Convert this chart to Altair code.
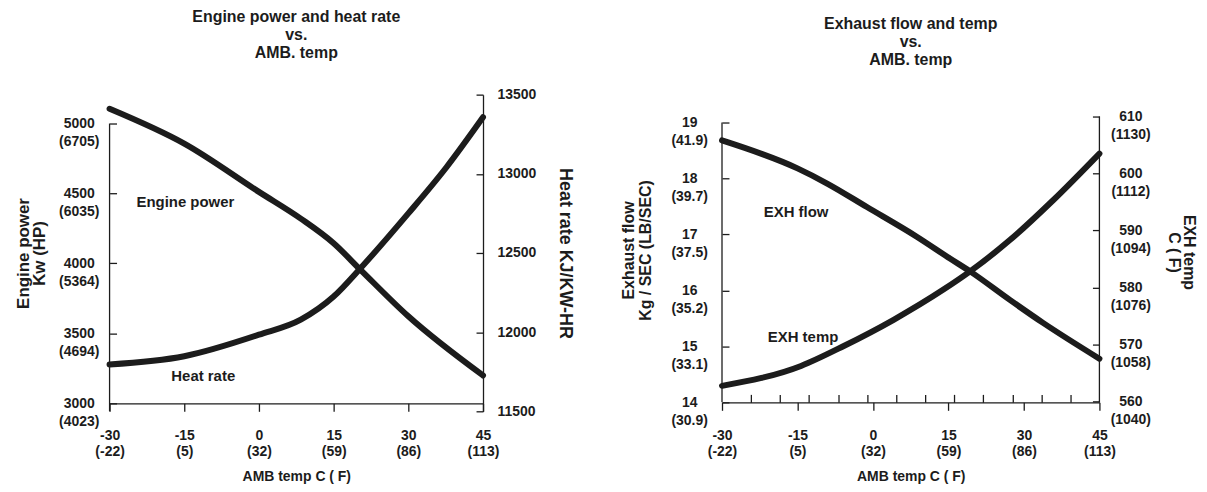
import altair as alt
import pandas as pd

FONT = "Liberation Sans"
INK = "#1c1c1c"

# ---------------- data ----------------
# Left chart: engine power (kW) and heat rate (kJ/kW-hr) vs ambient temp (C)
power_c = [-30, -15, 0, 8.4, 15, 20.4, 30, 45]
power_kw = [5105, 4856, 4511, 4320, 4144, 3954, 3622, 3199]
heat_c = [-30, -15, 0, 8.4, 15, 20.4, 30, 37.7, 45]
heat_rate = [11796, 11848, 11984, 12079, 12225, 12404, 12750, 13043, 13357]

# Right chart: exhaust flow (kg/s) and exhaust temp (C) vs ambient temp (C)
flow_c = [-30, -15, -9.1, -1.2, 8.7, 15.3, 19.3, 27.2, 33.8, 45]
flow_kg = [18.68, 18.18, 17.91, 17.49, 16.96, 16.57, 16.34, 15.83, 15.42, 14.78]
exh_c = [-30, -14.3, -5.8, 4.1, 14.0, 19.3, 27.2, 35.8, 45]
exh_temp = [562.7, 566.2, 569.7, 574.3, 579.6, 582.8, 588.3, 595.3, 603.5]

# tick labels
x_ticks = [-30, -15, 0, 15, 30, 45]
x_ticks_f = ["(-22)", "(5)", "(32)", "(59)", "(86)", "(113)"]
minor_x = [-24.2, -18.5, -12.7, -6.9, -1.2, 4.6, 10.4, 16.2, 21.9, 27.7, 33.5, 39.2]
power_ticks = [3000, 3500, 4000, 4500, 5000]
power_ticks_hp = ["(4023)", "(4694)", "(5364)", "(6035)", "(6705)"]
heat_ticks = [11500, 12000, 12500, 13000, 13500]
flow_ticks = [14, 15, 16, 17, 18, 19]
flow_ticks_lb = ["(30.9)", "(33.1)", "(35.2)", "(37.5)", "(39.7)", "(41.9)"]
exh_ticks = [560, 570, 580, 590, 600, 610]
exh_ticks_f = ["(1040)", "(1058)", "(1076)", "(1094)", "(1112)", "(1130)"]

# in-plot labels
left_lab_text = ["Engine power", "Heat rate"]
left_lab_x = [-24.6, -17.6]
left_lab_y = [4438, 3192]
right_lab_text = ["EXH flow", "EXH temp"]
right_lab_x = [-21.7, -20.9]
right_lab_y = [17.40, 15.16]

# scale domains
XDOM = [-30, 45]
POWER_DOM = [2943, 5206]
HEAT_DOM = [11500, 13500]
FLOW_DOM = [14, 19.498]
EXH_DOM = [559.8, 613.85]

# ---------------- helpers ----------------
AX = dict(labelFont=FONT, labelFontSize=14, labelFontWeight="bold", labelColor=INK,
          titleFont=FONT, titleFontSize=17, titleFontWeight="bold", titleColor=INK,
          domainColor=INK, domainWidth=1.3, tickColor=INK, tickWidth=1.3,
          grid=False, labelOverlap=False, labelFlush=False)


def axis(**kw):
    opts = dict(AX)
    opts.update(kw)
    return alt.Axis(**opts)


def lines_expr(values, seconds):
    expr = "''"
    for v, s in zip(reversed(values), reversed(seconds)):
        expr = f"datum.value == {v} ? ['{v}', '{s}'] : ({expr})"
    return expr


def tick_axis(orient, values, size=7):
    return axis(orient=orient, values=values, labels=False, domain=False, ticks=True,
                tickSize=size, offset=-size, title=None)


def sc(dom):
    return alt.Scale(domain=dom, nice=False, zero=False)


def line(df, ydom, xaxis, yaxis, opacity=1.0):
    return alt.Chart(df).mark_line(interpolate="monotone", strokeWidth=6, color=INK,
                                   strokeCap="round", opacity=opacity).encode(
        x=alt.X("c:Q", scale=sc(XDOM), axis=xaxis),
        y=alt.Y("v:Q", scale=sc(ydom), axis=yaxis),
    )


def labels(text, xs, ys, ydom):
    df = pd.DataFrame({"t": text, "c": xs, "v": ys})
    return alt.Chart(df).mark_text(align="left", baseline="middle", font=FONT, fontSize=15,
                                   fontWeight="bold", color=INK).encode(
        x=alt.X("c:Q", scale=sc(XDOM), axis=None),
        y=alt.Y("v:Q", scale=sc(ydom), axis=None),
        text="t:N",
    )


def vrule(xval, ytop, ybottom, ydom):
    return alt.Chart(pd.DataFrame({"a": [0]})).mark_rule(color=INK, strokeWidth=1.3).encode(
        x=alt.XDatum(xval, scale=sc(XDOM), axis=None),
        y=alt.YDatum(ytop, scale=sc(ydom), axis=None),
        y2=alt.Y2Datum(ybottom),
    )


def panel_title(lines, offset):
    return alt.TitleParams(lines, font=FONT, fontSize=16, fontWeight="bold", lineHeight=18,
                           color=INK, anchor="middle", frame="group", offset=offset)


# ---------------- left chart ----------------
power_df = pd.DataFrame({"c": power_c, "v": power_kw})
heat_df = pd.DataFrame({"c": heat_c, "v": heat_rate})

x_axis_left = axis(orient="bottom", values=x_ticks, labelExpr=lines_expr(x_ticks, x_ticks_f),
                   offset=-8, tickSize=8, labelPadding=17, labelLineHeight=16,
                   labelAlign="center", labelBaseline="top",
                   title="AMB temp  C ( F)", titleFontSize=14, titleY=73,
                   titleBaseline="middle")

ax_power = axis(orient="left", values=power_ticks, labelExpr=lines_expr(power_ticks, power_ticks_hp),
                ticks=False, tickSize=0, domain=False, labelAlign="center", labelBaseline="middle",
                labelPadding=31, labelLineHeight=18, title=["Engine power", "Kw (HP)"],
                titleX=-86, titleY=159, titleAngle=-90, titleAlign="center",
                titleBaseline="middle", titleFontSize=17, titleLineHeight=16)

ax_heat = axis(orient="right", values=heat_ticks, format="d", ticks=False, tickSize=0,
               labelAlign="left", labelBaseline="middle", labelPadding=14,
               title="Heat rate KJ/KW-HR", titleX=82, titleY=159, titleAngle=90,
               titleAlign="center", titleBaseline="middle", titleFontSize=18)

left = alt.layer(
    line(power_df, POWER_DOM, x_axis_left, ax_power),
    line(heat_df, HEAT_DOM, None, ax_heat),
    line(power_df, POWER_DOM, None, tick_axis("left", power_ticks), opacity=0),
    line(heat_df, HEAT_DOM, None, tick_axis("right", heat_ticks), opacity=0),
    vrule(XDOM[0], power_ticks[-1], POWER_DOM[0], POWER_DOM),
    labels(left_lab_text, left_lab_x, left_lab_y, POWER_DOM),
).resolve_scale(x="independent", y="independent").properties(
    width=375, height=318,
    title=panel_title(["Engine power and heat rate", "vs.", "AMB. temp"], 27),
)

# ---------------- right chart ----------------
flow_df = pd.DataFrame({"c": flow_c, "v": flow_kg})
exh_df = pd.DataFrame({"c": exh_c, "v": exh_temp})

x_axis_right = axis(orient="bottom", values=x_ticks, labelExpr=lines_expr(x_ticks, x_ticks_f),
                    tickSize=8, labelPadding=18, labelLineHeight=16,
                    labelAlign="center", labelBaseline="top",
                    title="AMB temp  C ( F)", titleFontSize=14, titleY=74,
                    titleBaseline="middle")

ax_flow = axis(orient="left", values=flow_ticks, labelExpr=lines_expr(flow_ticks, flow_ticks_lb),
               ticks=False, tickSize=0, domain=False, labelAlign="center", labelBaseline="middle",
               labelPadding=33, labelLineHeight=18, title=["Exhaust flow", "Kg / SEC (LB/SEC)"],
               titleX=-94, titleY=156, titleAngle=-90, titleAlign="center",
               titleBaseline="middle", titleFontSize=16, titleLineHeight=17)

ax_exh = axis(orient="right", values=exh_ticks, labelExpr=lines_expr(exh_ticks, exh_ticks_f),
              ticks=False, tickSize=0, domain=False, labelAlign="center", labelBaseline="middle",
              labelPadding=31, labelLineHeight=18, title=["EXH temp", "C ( F)"],
              titleX=89, titleY=158, titleAngle=90, titleAlign="center",
              titleBaseline="middle", titleFontSize=16, titleLineHeight=15)

right = alt.layer(
    line(flow_df, FLOW_DOM, x_axis_right, ax_flow),
    line(exh_df, EXH_DOM, None, ax_exh),
    line(flow_df, FLOW_DOM, tick_axis("bottom", minor_x, 8), tick_axis("left", flow_ticks), opacity=0),
    line(exh_df, EXH_DOM, None, tick_axis("right", exh_ticks), opacity=0),
    vrule(XDOM[0], flow_ticks[-1], FLOW_DOM[0], FLOW_DOM),
    vrule(XDOM[1], exh_ticks[-1], EXH_DOM[0], EXH_DOM),
    labels(right_lab_text, right_lab_x, right_lab_y, FLOW_DOM),
).resolve_scale(x="independent", y="independent").properties(
    width=379, height=309,
    title=panel_title(["Exhaust flow and temp", "vs.", "AMB. temp"], 27),
)

chart = alt.hconcat(left, right, spacing=47).configure_view(stroke=None).properties(
    padding={"left": 7, "top": 0, "right": 3, "bottom": 0},
    background="white",
)

chart.save("out.html", embed_options={"renderer": "svg", "actions": False})
